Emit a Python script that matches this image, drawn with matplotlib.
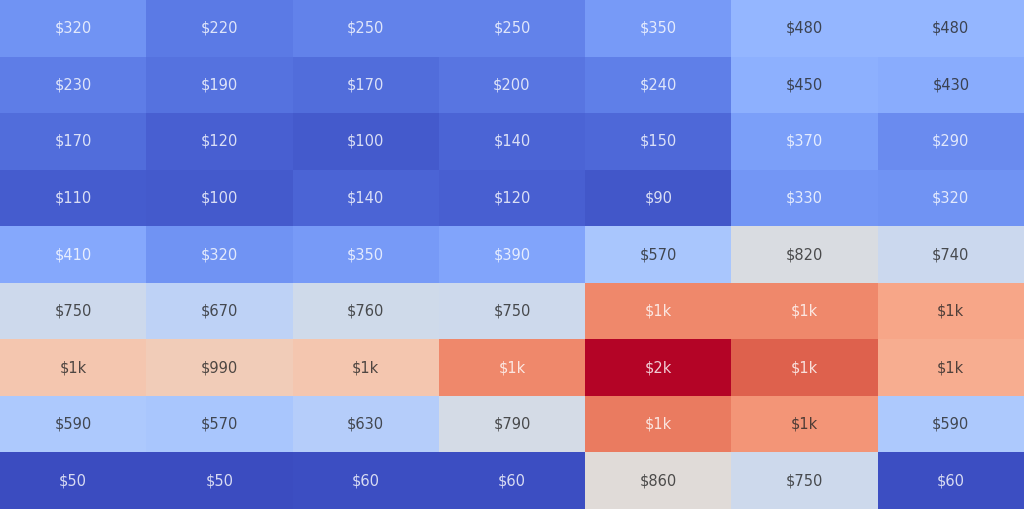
import matplotlib
matplotlib.use("Agg")
import matplotlib.pyplot as plt
import numpy as np
import seaborn as sns

# cell values, top row first ("$1k"/"$2k" cells estimated)
row_0 = [320, 220, 250, 250, 350, 480, 480]
row_1 = [230, 190, 170, 200, 240, 450, 430]
row_2 = [170, 120, 100, 140, 150, 370, 290]
row_3 = [110, 100, 140, 120, 90, 330, 320]
row_4 = [410, 320, 350, 390, 570, 820, 740]
row_5 = [750, 670, 760, 750, 1300, 1300, 1180]
row_6 = [1030, 990, 1030, 1300, 1630, 1430, 1150]
row_7 = [590, 570, 630, 790, 1345, 1250, 590]
row_8 = [50, 50, 60, 60, 860, 750, 60]

values = np.array([row_0, row_1, row_2, row_3, row_4, row_5, row_6, row_7, row_8])


def money(v):
    if v >= 1000:
        return f"${v / 1000:.0f}k"
    return f"${v:.0f}"


labels = np.vectorize(money)(values)

fig = plt.figure(figsize=(10.24, 5.09), dpi=100)
ax = fig.add_axes([0, 0, 1, 1])
sns.heatmap(values, cmap="coolwarm", annot=labels, fmt="", cbar=False,
            annot_kws={"fontsize": 10.5, "alpha": 0.8}, ax=ax)
ax.set_xticks([])
ax.set_yticks([])
ax.set_xlabel("")
ax.set_ylabel("")

fig.savefig("out.png", dpi=100)
